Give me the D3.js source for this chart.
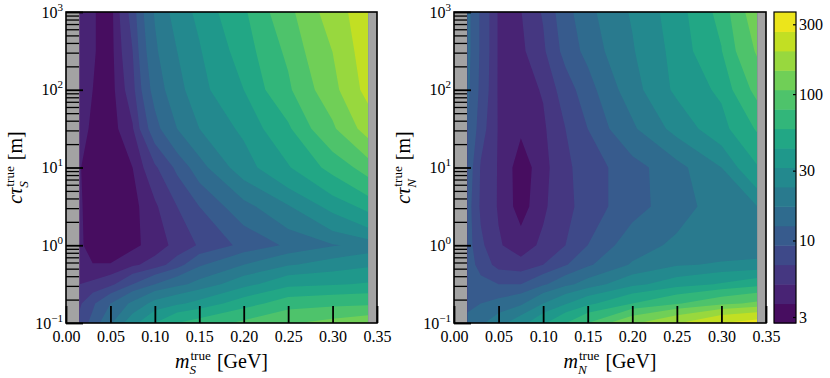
<!DOCTYPE html>
<html>
<head>
<meta charset="utf-8">
<script src="https://cdnjs.cloudflare.com/ajax/libs/d3/7.8.5/d3.min.js"></script>
<style>
  body { margin: 0; background: #fff; }
  svg { display: block; }
  text { font-family: "Liberation Serif", "DejaVu Serif", serif; fill: #000; }
</style>
</head>
<body>
<div id="chart"></div>
<script>

// grid nodes of the scan (mass in GeV, c*tau in m)
const massNodes = [0.015, 0.03, 0.05, 0.075, 0.1, 0.125, 0.15, 0.2, 0.25, 0.3, 0.34];
const ctauNodes = [0.1, 0.178, 0.316, 0.562, 1, 3.16, 10, 31.6, 100, 316, 1000];

// left panel, rows from c*tau = 0.1 up to 1000
const scalarGrid = [
    [7.49, 10.2, 16.1, 27.9, 42.8, 58.1, 65.7, 83.9, 104, 117, 129],
    [6.43, 8.73, 12.6, 18.2, 25.5, 29.7, 34.6, 49.9, 67.7, 72.0, 74.3],
    [5.03, 5.35, 6.23, 9.28, 12.6, 15.6, 18.8, 27.9, 39.1, 41.5, 44.1],
    [4.06, 3.76, 3.76, 4.74, 5.69, 7.96, 12.0, 17.1, 22.5, 26.3, 29.7],
    [4.00, 3.08, 2.99, 3.38, 4.26, 5.52, 7.05, 10.0, 13.2, 16.6, 18.8],
    [3.94, 2.99, 2.90, 3.28, 4.74, 6.83, 9.28, 15.1, 22.5, 34.6, 46.9],
    [3.82, 2.99, 2.99, 3.71, 6.43, 9.86, 14.7, 27.1, 41.5, 63.7, 89.2],
    [4.19, 3.49, 3.08, 4.88, 11.1, 17.1, 23.2, 33.5, 54.7, 101, 164],
    [4.32, 3.71, 3.13, 6.05, 14.2, 20.6, 27.9, 42.8, 74.3, 129, 217],
    [4.32, 3.82, 3.18, 6.83, 16.1, 23.2, 30.6, 48.4, 83.9, 146, 230],
    [4.32, 3.82, 3.18, 7.72, 17.6, 26.3, 34.0, 54.7, 96.3, 167, 237]
];

// right panel, same layout
const neutrinoGrid = [
    [13.4, 16.1, 20.6, 27.9, 40.3, 57.3, 79.0, 137, 192, 268, 303],
    [11.9, 12.6, 13.8, 16.1, 23.2, 30.6, 39.1, 58.1, 76.6, 97.8, 114],
    [11.1, 10.2, 9.28, 9.28, 11.9, 15.6, 19.3, 28.8, 36.8, 44.1, 51.4],
    [10.8, 8.21, 6.05, 5.52, 6.83, 9.00, 11.9, 17.6, 22.5, 24.0, 24.7],
    [10.5, 7.26, 5.19, 4.32, 5.35, 6.83, 9.28, 14.7, 18.2, 19.3, 19.9],
    [10.5, 6.43, 4.88, 3.08, 4.74, 6.23, 7.72, 11.1, 14.7, 19.9, 23.2],
    [11.1, 6.63, 4.88, 2.99, 4.45, 6.43, 7.72, 11.1, 15.1, 23.2, 41.5],
    [12.6, 7.72, 4.88, 3.94, 4.74, 6.83, 9.28, 16.1, 25.5, 37.9, 59.9],
    [13.4, 8.47, 4.81, 4.32, 5.19, 7.96, 10.8, 19.9, 33.5, 45.5, 86.5],
    [13.8, 8.73, 4.81, 4.66, 6.43, 10.2, 13.8, 22.5, 34.6, 57.3, 111],
    [13.8, 8.73, 4.81, 4.96, 7.05, 11.1, 15.4, 24.0, 36.2, 63.7, 129]
];

const massTicks = [0, 0.05, 0.1, 0.15, 0.2, 0.25, 0.3, 0.35];
const ctauTicks = [0.1, 1, 10, 100, 1000];
const colorTicks = [3, 10, 30, 100, 300];

// 16 log-spaced filled levels
const levelMin = 2.73, levelMax = 364, nBands = 16;
const lo = Math.log10(levelMin), hi = Math.log10(levelMax);
const levels = d3.range(nBands + 1).map(k => Math.pow(10, lo + k * (hi - lo) / nBands));
const bandColor = k => d3.interpolateViridis((k + 0.5) / nBands);

const W = 830, H = 378;
const plotTop = 12, plotBottom = 323;
const svg = d3.select("#chart").append("svg").attr("width", W).attr("height", H);

const nx = massNodes.length, ny = ctauNodes.length;

// little helper for labels like m_S^true [GeV]
function mathText(parent, parts, size) {
    const g = parent.append("g");
    let cx = 0;
    parts.forEach(p => {
        if (p.gap) cx += p.gap;
        if (p.text) {
            const t = g.append("text").attr("x", cx).attr("font-size", size)
                .attr("font-style", p.italic ? "italic" : null).text(p.text);
            cx += t.node().getComputedTextLength();
        } else {
            const s = size * 0.66;
            const a = g.append("text").attr("x", cx + 1).attr("y", -size * 0.38)
                .attr("font-size", s).text(p.sup);
            const b = g.append("text").attr("x", cx).attr("y", size * 0.3)
                .attr("font-size", s).attr("font-style", "italic").text(p.sub);
            cx += Math.max(a.node().getComputedTextLength() + 1, b.node().getComputedTextLength());
        }
    });
    return {g: g, width: cx};
}

const panels = [
    {left: 66, right: 377, grid: scalarGrid, sub: "S"},
    {left: 454, right: 766, grid: neutrinoGrid, sub: "N"}
];

panels.forEach((p, i) => {
    const x = d3.scaleLinear().domain([0, 0.35]).range([p.left, p.right]);
    const y = d3.scaleLog().domain([0.1, 1000]).range([plotBottom, plotTop]);
    const g = svg.append("g");

    g.append("rect")
        .attr("x", p.left).attr("y", plotTop)
        .attr("width", p.right - p.left).attr("height", plotBottom - plotTop)
        .attr("fill", "#a3a3a3");

    const clipId = "clip" + i;
    svg.append("clipPath").attr("id", clipId).append("rect")
        .attr("x", x(massNodes[0])).attr("y", plotTop)
        .attr("width", x(massNodes[nx - 1]) - x(massNodes[0]))
        .attr("height", plotBottom - plotTop);

    const cg = g.append("g").attr("clip-path", `url(#${clipId})`);
    cg.append("rect")
        .attr("x", x(massNodes[0])).attr("y", plotTop)
        .attr("width", x(massNodes[nx - 1]) - x(massNodes[0]))
        .attr("height", plotBottom - plotTop)
        .attr("fill", bandColor(0));

    // grid index -> data position
    const ix = d3.scaleLinear().domain(d3.range(nx)).range(massNodes).clamp(true);
    const iy = d3.scaleLinear().domain(d3.range(ny)).range(ctauNodes.map(Math.log10)).clamp(true);
    const proj = d3.geoTransform({
        point: function(gx, gy) {
            this.stream.point(x(ix(gx - 0.5)), y(Math.pow(10, iy(gy - 0.5))));
        }
    });

    const contours = d3.contours()
        .size([nx, ny])
        .thresholds(levels.slice(1, nBands))(p.grid.flat());

    cg.selectAll("path")
        .data(contours)
        .join("path")
        .attr("d", d3.geoPath(proj))
        .attr("fill", (d, k) => bandColor(k + 1));

    // minor y ticks
    const minor = [];
    [-1, 0, 1, 2].forEach(e => d3.range(2, 10).forEach(m => minor.push(m * Math.pow(10, e))));
    g.append("g")
        .attr("transform", `translate(${p.left},0)`)
        .call(d3.axisLeft(y).tickValues(minor).tickFormat(() => "").tickSizeInner(-13).tickSizeOuter(0))
        .call(a => a.select(".domain").remove())
        .call(a => a.selectAll("line").attr("stroke", "#000").attr("stroke-width", 1.3));

    // major y ticks
    const ya = g.append("g")
        .attr("transform", `translate(${p.left},0)`)
        .call(d3.axisLeft(y).tickValues(ctauTicks).tickSizeInner(-17).tickSizeOuter(0).tickPadding(3))
        .call(a => a.select(".domain").remove())
        .call(a => a.selectAll("line").attr("stroke", "#000").attr("stroke-width", 1.8));
    ya.attr("font-size", 16).attr("font-family", null);
    ya.selectAll("text").each(function(d) {
        const t = d3.select(this).text(null);
        const e = Math.round(Math.log10(d));
        t.append("tspan").text("10");
        t.append("tspan").attr("font-size", 11).attr("dy", -7)
            .text(e < 0 ? "\u2212" + (-e) : String(e));
    });

    // x ticks
    g.append("g")
        .attr("transform", `translate(0,${plotBottom})`)
        .call(d3.axisBottom(x).tickValues(massTicks).tickFormat(d3.format(".2f"))
            .tickSizeInner(-17).tickSizeOuter(0).tickPadding(8))
        .call(a => a.select(".domain").remove())
        .call(a => a.selectAll("line").attr("stroke", "#000").attr("stroke-width", 1.8))
        .attr("font-size", 16).attr("font-family", null);

    // frame
    g.append("rect")
        .attr("x", p.left).attr("y", plotTop)
        .attr("width", p.right - p.left).attr("height", plotBottom - plotTop)
        .attr("fill", "none").attr("stroke", "#000").attr("stroke-width", 1.6);

    // axis titles
    const xt = mathText(svg, [
        {text: "m", italic: true},
        {sup: "true", sub: p.sub},
        {text: "[GeV]", gap: 6}
    ], 20);
    xt.g.attr("transform", `translate(${(p.left + p.right) / 2 - xt.width / 2},368)`);

    const yg = svg.append("g").attr("transform", `translate(${p.left - 44},${(plotTop + plotBottom) / 2}) rotate(-90)`);
    const yt = mathText(yg, [
        {text: "c\u03c4", italic: true},
        {sup: "true", sub: p.sub},
        {text: "[m]", gap: 6}
    ], 20);
    yt.g.attr("transform", `translate(${-yt.width / 2},0)`);
});

// colour bar
const cbLeft = 774, cbRight = 796;
const cb = d3.scaleLog().domain([levelMin, levelMax]).range([plotBottom, plotTop]);
const cbg = svg.append("g");
cbg.selectAll("rect.band")
    .data(d3.range(nBands))
    .join("rect")
    .attr("class", "band")
    .attr("x", cbLeft)
    .attr("y", k => cb(levels[k + 1]))
    .attr("width", cbRight - cbLeft)
    .attr("height", k => cb(levels[k]) - cb(levels[k + 1]) + 0.5)
    .attr("fill", k => bandColor(k));
cbg.append("rect")
    .attr("x", cbLeft).attr("y", plotTop)
    .attr("width", cbRight - cbLeft).attr("height", plotBottom - plotTop)
    .attr("fill", "none").attr("stroke", "#000").attr("stroke-width", 1.2);
cbg.append("g")
    .attr("transform", `translate(${cbRight},0)`)
    .call(d3.axisRight(cb).tickValues(colorTicks).tickFormat(d3.format("d"))
        .tickSizeInner(-3).tickSizeOuter(0).tickPadding(3))
    .call(a => a.select(".domain").remove())
    .call(a => a.selectAll("line").attr("stroke", "#000").attr("stroke-width", 1.2))
    .attr("font-size", 16).attr("font-family", null);

</script>
</body>
</html>
